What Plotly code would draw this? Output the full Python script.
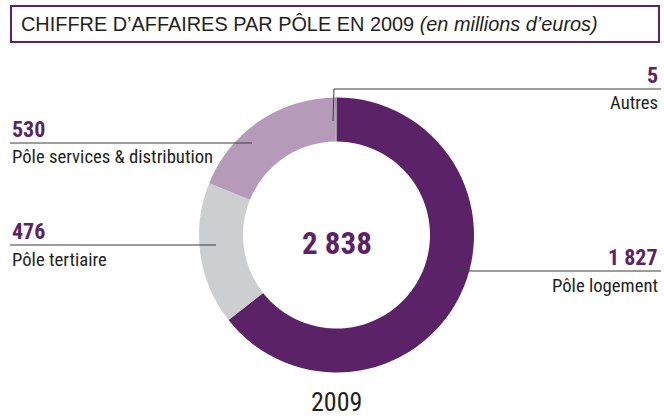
import plotly.graph_objects as go

W, H = 664, 418

categories = ["Pôle logement", "Pôle tertiaire", "Pôle services & distribution", "Autres"]
values = [1827, 476, 530, 5]
value_labels = ["1 827", "476", "530", "5"]
colors = ["#5C2268", "#CDCED0", "#B59BB9", "#9A9A9A"]
total_label = "2 838"
year_label = "2009"
title_main = "CHIFFRE D’AFFAIRES PAR PÔLE EN 2009 "
title_unit = "(en millions d’euros)"

PURPLE = "#5C2268"
TXT = "#231F20"
NARROW = "Liberation Sans Narrow, Arial Narrow, Roboto Condensed, sans-serif"


def px(x):
    return x / W


def py(y):
    return 1 - y / H


# donut geometry (pixels)
cx, cy, R = 336.5, 235, 137.5

fig = go.Figure()
fig.add_trace(go.Pie(
    labels=categories, values=values,
    marker=dict(colors=colors, line=dict(width=0)),
    hole=0.68, sort=False, direction="clockwise", rotation=0,
    textinfo="none", hoverinfo="label+value", showlegend=False,
    domain=dict(x=[px(cx - R), px(cx + R)], y=[py(cy + R), py(cy - R)]),
))

shapes = []
shapes.append(dict(type="rect", xref="paper", yref="paper",
                   x0=px(11), x1=px(659), y0=py(42), y1=py(6),
                   line=dict(color=PURPLE, width=2), fillcolor="rgba(0,0,0,0)"))

LINE = dict(color="#3a3a3a", width=1)
leaders = [
    (457, 271, 661, 271),   # logement
    (10, 245, 216, 245),    # tertiaire
    (10, 143, 252, 143),    # services
    (334, 89, 661, 89),     # autres horizontal
    (334, 89, 333, 121),    # autres vertical
]
for x0, y0, x1, y1 in leaders:
    shapes.append(dict(type="line", xref="paper", yref="paper",
                       x0=px(x0), y0=py(y0), x1=px(x1), y1=py(y1), line=LINE))

annotations = []
annotations.append(dict(xref="paper", yref="paper", x=px(19), y=py(24),
                        xanchor="left", yanchor="middle", showarrow=False,
                        text=title_main + "<i>" + title_unit + "</i>",
                        font=dict(family="Liberation Sans, Arial, sans-serif", size=19.9, color=TXT)))

label_pos = {
    "Pôle logement": (660, "right", 257, 286),
    "Pôle tertiaire": (10, "left", 231, 260),
    "Pôle services & distribution": (10, "left", 129, 157),
    "Autres": (660, "right", 75, 103),
}
for cat, val in zip(categories, value_labels):
    x, anc, yv, yn = label_pos[cat]
    annotations.append(dict(xref="paper", yref="paper", x=px(x), y=py(yv),
                            xanchor=anc, yanchor="middle", showarrow=False,
                            text="<b>" + val + "</b>",
                            font=dict(family=NARROW, size=22, color=PURPLE)))
    annotations.append(dict(xref="paper", yref="paper", x=px(x), y=py(yn),
                            xanchor=anc, yanchor="middle", showarrow=False,
                            text=cat,
                            font=dict(family=NARROW, size=18.7, color=TXT)))

annotations.append(dict(xref="paper", yref="paper", x=px(cx), y=py(243),
                        xanchor="center", yanchor="middle", showarrow=False,
                        text="<b>" + total_label + "</b>",
                        font=dict(family=NARROW, size=31, color=PURPLE)))
annotations.append(dict(xref="paper", yref="paper", x=px(cx), y=py(402),
                        xanchor="center", yanchor="middle", showarrow=False,
                        text=year_label, borderpad=0,
                        font=dict(family=NARROW, size=26, color=TXT)))

fig.update_layout(
    width=W, height=H, margin=dict(l=0, r=0, t=0, b=0),
    paper_bgcolor="white", plot_bgcolor="white",
    shapes=shapes, annotations=annotations,
)

fig.write_html("out.html", config={"displayModeBar": False},
               post_script="document.body.style.margin='0';document.body.style.padding='0';document.body.style.overflow='hidden';")
